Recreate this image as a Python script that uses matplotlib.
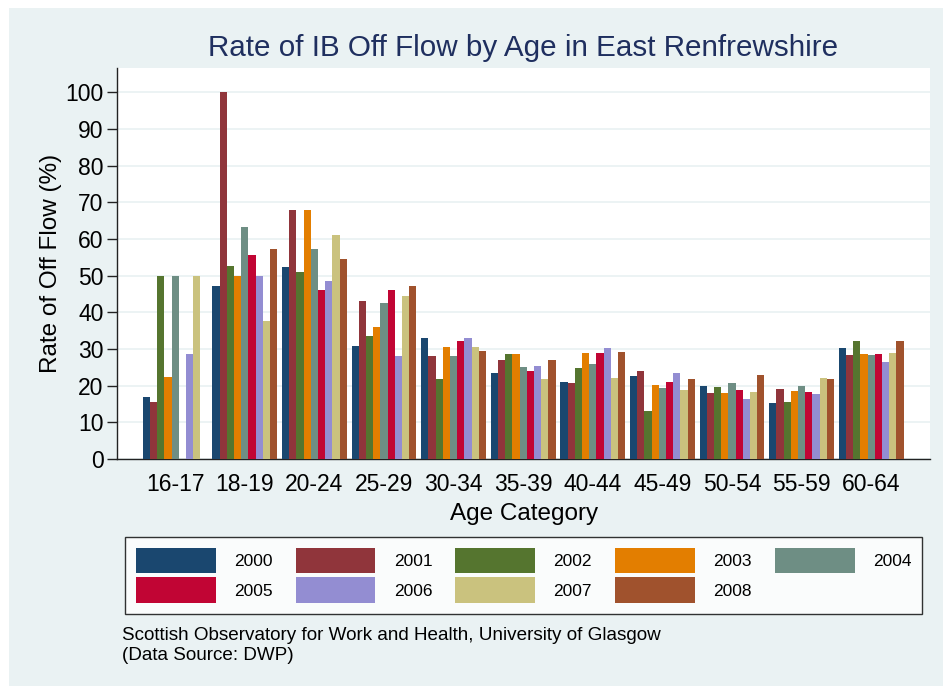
import numpy as np
import matplotlib.pyplot as plt
from matplotlib.patches import Rectangle, Patch

plt.rcParams['font.family'] = ['Liberation Sans', 'DejaVu Sans']

# Age categories and yearly off-flow rates (%)
ages = ['16-17', '18-19', '20-24', '25-29', '30-34', '35-39',
        '40-44', '45-49', '50-54', '55-59', '60-64']
years = ['2000', '2001', '2002', '2003', '2004', '2005', '2006', '2007', '2008']

r2000 = [16.8, 47.2, 52.3, 30.8, 33.0, 23.5, 20.9, 22.5, 19.8, 15.4, 30.3]
r2001 = [15.5, 100.0, 67.9, 43.1, 28.0, 27.1, 20.6, 23.9, 18.0, 19.0, 28.4]
r2002 = [50.0, 52.6, 51.0, 33.5, 21.9, 28.6, 24.8, 13.0, 19.5, 15.5, 32.3]
r2003 = [22.3, 50.0, 67.9, 35.9, 30.5, 28.5, 29.0, 20.2, 18.0, 18.5, 28.5]
r2004 = [50.0, 63.3, 57.2, 42.6, 28.0, 25.0, 25.8, 19.3, 20.6, 19.8, 28.3]
r2005 = [0.0, 55.7, 46.1, 46.0, 32.1, 24.0, 28.8, 20.9, 18.7, 18.3, 28.5]
r2006 = [28.7, 50.0, 48.5, 28.0, 33.1, 25.4, 30.2, 23.5, 16.3, 17.7, 26.5]
r2007 = [50.0, 37.7, 61.2, 44.4, 30.4, 21.7, 22.0, 18.8, 18.3, 22.0, 28.8]
r2008 = [0.0, 57.2, 54.4, 47.3, 29.5, 26.9, 29.3, 21.7, 22.8, 21.7, 32.3]
rates = [r2000, r2001, r2002, r2003, r2004, r2005, r2006, r2007, r2008]

colors = ['#1a476f', '#90353b', '#55752f', '#e37e00', '#6e8e84',
          '#c10534', '#938dd2', '#cac27e', '#a0522d']

bg = '#eaf2f3'
W, H = 943, 687
fig = plt.figure(figsize=(W / 100, H / 100), dpi=100, facecolor='white')
fig.patches.append(Rectangle((9 / W, 1 - 686 / H), (W - 9) / W, 678 / H,
                             transform=fig.transFigure, facecolor=bg,
                             edgecolor='none', zorder=-10))

ax = fig.add_axes([117.3 / W, 1 - 459 / H, (930 - 117.3) / W, (459 - 68) / H])
ax.set_facecolor('white')

x = np.arange(len(ages))
w = 0.1037
for j, (yr, vals) in enumerate(zip(years, rates)):
    ax.bar(x + (j - 4) * w, vals, width=w, color=colors[j], label=yr,
           zorder=3, linewidth=0)

ax.set_xlim(-0.832, 10.845)
ax.set_ylim(0, 106.6)
ax.set_yticks(np.arange(0, 101, 10))
ax.set_xticks(x)
ax.set_xticklabels(ages)
ax.tick_params(axis='y', length=7, width=1, direction='out', pad=3,
               labelsize=16.5, color='#222222')
ax.tick_params(axis='x', length=0, pad=10, labelsize=16.5)
ax.yaxis.grid(True, color=bg, linewidth=1.3, zorder=0)
ax.set_axisbelow(True)
for s in ['top', 'right']:
    ax.spines[s].set_visible(False)
for s in ['left', 'bottom']:
    ax.spines[s].set_color('#222222')
    ax.spines[s].set_linewidth(1)

ax.set_ylabel('Rate of Off Flow (%)', fontsize=17.5, labelpad=2)
ax.set_xlabel('Age Category', fontsize=17.5, labelpad=5)

fig.text(523 / W, 1 - 48 / H, 'Rate of IB Off Flow by Age in East Renfrewshire',
         ha='center', va='center', fontsize=21.3, color='#1f2f5f')

# legend in Stata row order
order = [0, 5, 1, 6, 2, 7, 3, 8, 4]
handles = [Patch(facecolor=colors[k], edgecolor='none') for k in order]
labels = [years[k] for k in order]
leg = fig.legend(handles, labels, ncol=5, loc='upper left',
                 bbox_to_anchor=(125 / W, 1 - 537 / H), fontsize=12.5,
                 frameon=True, fancybox=False, edgecolor='black',
                 handlelength=4.6, handleheight=1.9, handletextpad=1.05,
                 columnspacing=1.33, labelspacing=0.22, borderpad=0.62,
                 borderaxespad=0)
leg.get_frame().set_linewidth(1)

fig.text(122 / W, 1 - 636 / H,
         'Scottish Observatory for Work and Health, University of Glasgow',
         ha='left', va='center', fontsize=13.6)
fig.text(122 / W, 1 - 655 / H, '(Data Source: DWP)',
         ha='left', va='center', fontsize=13.6)

fig.savefig('out.png', dpi=100, facecolor=fig.get_facecolor())
